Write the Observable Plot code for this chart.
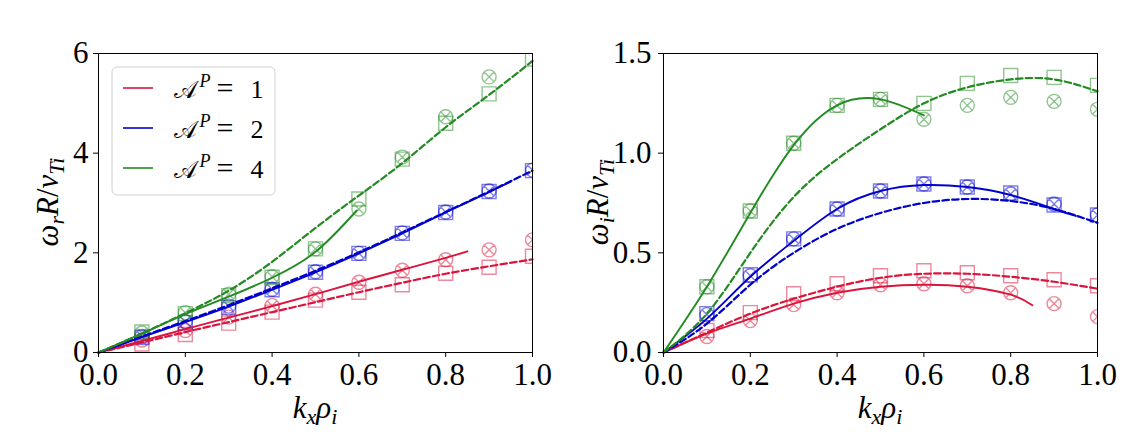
<!DOCTYPE html>
<html>
<head>
<meta charset="utf-8">
<script src="https://cdn.jsdelivr.net/npm/d3@7"></script>
<script src="https://cdn.jsdelivr.net/npm/@observablehq/plot@0.6"></script>
<style>
  html, body { margin: 0; padding: 0; background: white; }
  #wrap { display: flex; width: 1136px; height: 437px; }
  #wrap svg, #wrap svg text { font-family: "Liberation Serif", "DejaVu Serif", serif !important; }
</style>
</head>
<body>
<div id="wrap"></div>
<script>
// ---------- data ----------
const kx = [0.1, 0.2, 0.3, 0.4, 0.5, 0.6, 0.7, 0.8, 0.9, 1.0];
const xFull = [0, 0.1, 0.2, 0.3, 0.4, 0.5, 0.6, 0.7, 0.8, 0.9, 1.0];
const xRed = [0, 0.1, 0.2, 0.3, 0.4, 0.5, 0.6, 0.7, 0.8, 0.85];
const xBlue = [0, 0.1, 0.2, 0.3, 0.4, 0.5, 0.6, 0.7, 0.8, 0.9, 0.95];
const xGreenReal = [0, 0.1, 0.2, 0.3, 0.4, 0.5, 0.595];
const xGreenImag = [0, 0.1, 0.2, 0.3, 0.4, 0.5, 0.6];
const xTicks = [0, 0.2, 0.4, 0.6, 0.8, 1.0];
const yTicksReal = [0, 2, 4, 6];
const yTicksImag = [0, 0.5, 1.0, 1.5];
const legendLabels = ["1", "2", "4"];
const colors = ["crimson", "mediumblue", "forestgreen"];

// real frequency  (left)
const redSolidReal   = [0, 0.23, 0.47, 0.70, 0.93, 1.17, 1.42, 1.66, 1.90, 2.03];
const redDashReal    = [0, 0.20, 0.41, 0.61, 0.81, 1.01, 1.21, 1.40, 1.58, 1.73, 1.87];
const blueSolidReal  = [0, 0.31, 0.61, 0.92, 1.26, 1.61, 1.99, 2.39, 2.81, 3.22, 3.43];
const blueDashReal   = [0, 0.32, 0.63, 0.95, 1.29, 1.64, 2.01, 2.41, 2.82, 3.23, 3.65];
const greenSolidReal = [0, 0.38, 0.77, 1.12, 1.50, 2.02, 2.85];
const greenDashReal  = [0, 0.38, 0.79, 1.24, 1.82, 2.50, 3.15, 3.80, 4.52, 5.17, 5.85];
const redSqReal   = [0.17, 0.36, 0.59, 0.81, 1.05, 1.21, 1.36, 1.59, 1.71, 1.93];
const redCiReal   = [0.25, 0.44, 0.71, 0.94, 1.17, 1.41, 1.65, 1.86, 2.06, 2.26];
const blueSqReal  = [0.30, 0.60, 0.90, 1.26, 1.61, 1.99, 2.39, 2.81, 3.23, 3.65];
const blueCiReal  = [0.32, 0.62, 0.93, 1.27, 1.62, 1.99, 2.40, 2.82, 3.24, 3.66];
const greenSqReal = [0.41, 0.78, 1.14, 1.51, 2.08, 3.08, 3.88, 4.60, 5.19, 5.89];
const greenCiReal = [0.39, 0.80, 1.17, 1.52, 2.08, 2.88, 3.92, 4.73, 5.53, 6.15];

// growth rate (right)
const redSolidImag   = [0, 0.095, 0.17, 0.245, 0.30, 0.33, 0.34, 0.33, 0.29, 0.237];
const redDashImag    = [0, 0.10, 0.195, 0.27, 0.33, 0.375, 0.395, 0.395, 0.38, 0.355, 0.32];
const blueSolidImag  = [0, 0.17, 0.38, 0.56, 0.72, 0.81, 0.84, 0.83, 0.79, 0.72, 0.685];
const blueDashImag   = [0, 0.145, 0.34, 0.50, 0.62, 0.70, 0.75, 0.77, 0.76, 0.72, 0.65];
const greenSolidImag = [0, 0.33, 0.70, 1.04, 1.24, 1.27, 1.19];
const greenDashImag  = [0, 0.195, 0.50, 0.78, 0.97, 1.12, 1.25, 1.33, 1.37, 1.37, 1.31];
const redSqImag   = [0.11, 0.20, 0.295, 0.345, 0.385, 0.41, 0.40, 0.385, 0.365, 0.335];
const redCiImag   = [0.08, 0.16, 0.24, 0.30, 0.34, 0.345, 0.335, 0.30, 0.245, 0.18];
const blueSqImag  = [0.195, 0.39, 0.57, 0.72, 0.81, 0.845, 0.83, 0.80, 0.74, 0.69];
const blueCiImag  = [0.19, 0.385, 0.57, 0.72, 0.81, 0.845, 0.83, 0.795, 0.745, 0.69];
const greenSqImag = [0.33, 0.71, 1.05, 1.24, 1.27, 1.25, 1.35, 1.39, 1.38, 1.34];
const greenCiImag = [0.33, 0.71, 1.05, 1.24, 1.27, 1.17, 1.24, 1.28, 1.26, 1.22];

// ---------- helpers ----------
const pts = (xs, ys) => xs.map((x, i) => ({x, y: ys[i]}));
const squareSym = {
  draw(ctx, size) {
    const h = Math.sqrt(size / Math.PI);
    ctx.moveTo(-h, -h); ctx.lineTo(h, -h); ctx.lineTo(h, h); ctx.lineTo(-h, h); ctx.closePath();
  }
};
const crossCircleSym = {
  draw(ctx, size) {
    const r = Math.sqrt(size / Math.PI);
    ctx.moveTo(r, 0); ctx.arc(0, 0, r, 0, 2 * Math.PI);
    const d = r * Math.SQRT1_2;
    ctx.moveTo(-d, -d); ctx.lineTo(d, d);
    ctx.moveTo(d, -d); ctx.lineTo(-d, d);
  }
};
const FONT = "Liberation Serif";

function lineMark(xs, ys, color, dashed) {
  return Plot.line(pts(xs, ys), {
    x: "x", y: "y", stroke: color, strokeWidth: dashed ? 2.2 : 1.9, curve: "natural",
    strokeDasharray: dashed ? "6.5,3.3" : null
  });
}
function dotMark(ys, color, sym) {
  return Plot.dot(pts(kx, ys), {
    x: "x", y: "y", r: 7, symbol: sym, fill: "none", stroke: color,
    strokeOpacity: 0.5, strokeWidth: 1.4, clip: true
  });
}

function panel(opts) {
  const svg = Plot.plot({
    width: 568, height: 437,
    marginLeft: opts.ml, marginRight: opts.mr, marginTop: 53, marginBottom: 85,
    style: {fontSize: "31px", color: "black", background: "white", overflow: "visible"},
    x: {domain: [0, 1]},
    y: {domain: opts.ydomain},
    marks: [
      ...opts.dots,
      ...opts.lines,
      Plot.axisX({ticks: xTicks, tickFormat: d3.format(".1f"), tickSize: 5, tickPadding: 5, label: null}),
      Plot.axisY({ticks: opts.yticks, tickFormat: opts.yfmt, tickSize: 5, tickPadding: opts.ypad, label: null}),
      Plot.frame({stroke: "black", strokeWidth: 1})
    ]
  });
  const s = d3.select(svg);
  // x label
  const xl = s.append("text").attr("x", (opts.ml + 568 - opts.mr) / 2).attr("y", 418)
    .attr("text-anchor", "middle").attr("font-family", FONT).style("font-size", "31px");
  xl.append("tspan").style("font-style", "italic").text("k");
  xl.append("tspan").style("font-style", "italic").style("font-size", "22px").attr("dy", 6).text("x");
  xl.append("tspan").style("font-style", "italic").attr("dy", -6).text("ρ");
  xl.append("tspan").style("font-style", "italic").style("font-size", "22px").attr("dy", 6).text("i");
  // y label
  const yl = s.append("text")
    .attr("transform", `translate(${opts.ylx},202) rotate(-90)`)
    .attr("text-anchor", "middle").attr("font-family", FONT).style("font-size", "31px");
  yl.append("tspan").style("font-style", "italic").text("ω");
  yl.append("tspan").style("font-style", "italic").style("font-size", "22px").attr("dy", 6).text(opts.sub);
  yl.append("tspan").style("font-style", "italic").attr("dy", -6).text("R");
  yl.append("tspan").text("/");
  yl.append("tspan").style("font-style", "italic").text("v");
  yl.append("tspan").style("font-style", "italic").style("font-size", "22px").attr("dy", 6).text("Ti");
  return svg;
}

const left = panel({
  ml: 98, mr: 36, ydomain: [0, 6], yticks: yTicksReal, yfmt: d3.format("d"), ylx: 58, sub: "r", ypad: 5,
  dots: [
    dotMark(redSqReal, colors[0], squareSym), dotMark(redCiReal, colors[0], crossCircleSym),
    dotMark(blueSqReal, colors[1], squareSym), dotMark(blueCiReal, colors[1], crossCircleSym),
    dotMark(greenSqReal, colors[2], squareSym), dotMark(greenCiReal, colors[2], crossCircleSym)
  ],
  lines: [
    lineMark(xRed, redSolidReal, colors[0], false), lineMark(xFull, redDashReal, colors[0], true),
    lineMark(xBlue, blueSolidReal, colors[1], false), lineMark(xFull, blueDashReal, colors[1], true),
    lineMark(xGreenReal, greenSolidReal, colors[2], false), lineMark(xFull, greenDashReal, colors[2], true)
  ]
});

const right = panel({
  ml: 95, mr: 39, ydomain: [0, 1.5], yticks: yTicksImag, yfmt: d3.format(".1f"), ylx: 40, sub: "i", ypad: 7,
  dots: [
    dotMark(redSqImag, colors[0], squareSym), dotMark(redCiImag, colors[0], crossCircleSym),
    dotMark(blueSqImag, colors[1], squareSym), dotMark(blueCiImag, colors[1], crossCircleSym),
    dotMark(greenSqImag, colors[2], squareSym), dotMark(greenCiImag, colors[2], crossCircleSym)
  ],
  lines: [
    lineMark(xRed, redSolidImag, colors[0], false), lineMark(xFull, redDashImag, colors[0], true),
    lineMark(xBlue, blueSolidImag, colors[1], false), lineMark(xFull, blueDashImag, colors[1], true),
    lineMark(xGreenImag, greenSolidImag, colors[2], false), lineMark(xFull, greenDashImag, colors[2], true)
  ]
});

// legend in the left panel
{
  const s = d3.select(left);
  const g = s.append("g");
  g.append("rect").attr("x", 112).attr("y", 67).attr("width", 163).attr("height", 128)
    .attr("rx", 5).attr("fill", "white").attr("fill-opacity", 0.8).attr("stroke", "#d0d0d0");
  legendLabels.forEach((lab, i) => {
    const y = 88 + i * 40;
    g.append("line").attr("x1", 123).attr("x2", 153).attr("y1", y).attr("y2", y)
      .attr("stroke", colors[i]).attr("stroke-width", 1.6);
    const base = y + 10;
    const t = g.append("text").attr("x", 192).attr("y", base).style("font-size", "24px");
    t.append("tspan").text("𝒜");
    t.append("tspan").attr("dx", 3).attr("dy", -11).style("font-size", "18px").style("font-style", "italic").text("P");
    g.append("text").attr("x", 225).attr("y", base).attr("text-anchor", "middle")
      .style("font-size", "30px").text("=");
    g.append("text").attr("x", 257).attr("y", base).attr("text-anchor", "middle")
      .style("font-size", "26px").text(lab);
  });
}

document.getElementById("wrap").append(left, right);
</script>
</body>
</html>
